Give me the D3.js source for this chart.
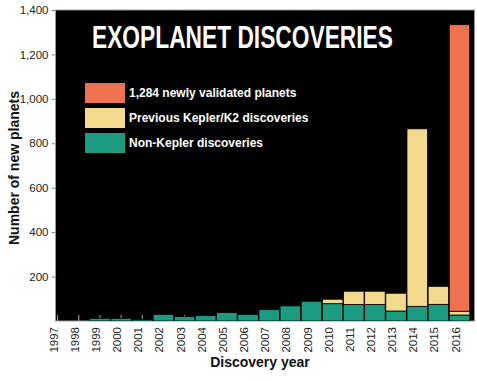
<!DOCTYPE html>
<html><head><meta charset="utf-8">
<script src="https://cdn.jsdelivr.net/npm/d3@7/dist/d3.min.js"></script>
<style>body{margin:0;background:#fff}svg{display:block}</style>
</head><body><svg id="c" width="477" height="381"></svg>
<script>
const years = ["1997","1998","1999","2000","2001","2002","2003","2004","2005","2006","2007","2008","2009","2010","2011","2012","2013","2014","2015","2016"];
const nonKepler = [0,0,12,12,7,30,20,24,38,30,51,68,89,78,74,74,45,66,75,27];
const prevKepler = [0,0,0,0,0,0,0,0,0,0,0,0,0,20,60,60,80,799,81,17];
const newlyValidated = [0,0,0,0,0,0,0,0,0,0,0,0,0,0,0,0,0,0,0,1290];
const yTicks = [200,400,600,800,1000,1200,1400];
const seriesNames = ["1,284 newly validated planets","Previous Kepler/K2 discoveries","Non-Kepler discoveries"];
const colors = {nonKepler:"#1b9b80", prevKepler:"#f3da8d", newlyValidated:"#ee7150"};

const svg = d3.select("#c");
const L=55.5, R=474.5, T=10, B=321;
const x = d3.scaleBand().domain(years).range([47.1,470.1]).paddingInner(0.03).paddingOuter(0.015);
const y = d3.scaleLinear().domain([0,1400]).range([B,T]);

svg.append("rect").attr("x",L).attr("y",T).attr("width",R-L).attr("height",B-T).attr("fill","#000").attr("stroke","#999").attr("stroke-width",1);

svg.append("defs").append("clipPath").attr("id","clp").append("rect").attr("x",L).attr("y",T).attr("width",R-L).attr("height",B-T);

const data = years.map((yr,i)=>({year:yr,nonKepler:nonKepler[i],prevKepler:prevKepler[i],newlyValidated:newlyValidated[i]}));
const stack = d3.stack().keys(["nonKepler","prevKepler","newlyValidated"])(data);

const gx = svg.append("g").attr("transform",`translate(0,${B})`)
  .call(d3.axisBottom(x).tickSize(-6).tickPadding(4).tickSizeOuter(0));
gx.select(".domain").remove();
gx.selectAll("line").attr("stroke","#aaa");
gx.selectAll("text").attr("transform","rotate(-90)").attr("text-anchor","end")
  .attr("x",-6).attr("y",-4).attr("dy","0.35em")
  .style("font-family","Liberation Sans, Arial, sans-serif").style("font-size","11.5px").attr("fill","#222");

const g = svg.append("g").attr("clip-path","url(#clp)");
g.selectAll("g.s").data(stack).join("g").attr("fill",d=>colors[d.key])
  .selectAll("rect").data(d=>d.filter(p=>p[1]-p[0]>0)).join("rect")
  .attr("x",d=>x(d.data.year)).attr("width",x.bandwidth())
  .attr("y",d=>y(d[1])).attr("height",d=>y(d[0])-y(d[1]))
  .attr("stroke","#000").attr("stroke-width",0.8);

const gy = svg.append("g").attr("transform",`translate(${L},0)`)
  .call(d3.axisLeft(y).tickValues(yTicks).tickFormat(d3.format(",")).tickSize(4).tickPadding(3));
gy.select(".domain").remove();
gy.selectAll("line").attr("stroke","#888");
gy.selectAll("text").style("font-family","Liberation Sans, Arial, sans-serif").style("font-size","11.5px").attr("fill","#222");

// title, horizontally scaled to reference width
const tg = svg.append("g");
const tt = tg.append("text").attr("x",0).attr("y",0)
  .style("font-family","Liberation Sans Narrow, Arial Narrow, sans-serif").style("font-weight","bold").style("font-size","31px")
  .attr("fill","#fff").text("EXOPLANET DISCOVERIES");
const tw = tt.node().getComputedTextLength();
tg.attr("transform",`translate(92,48) scale(${301/tw},1)`);

const lg = svg.append("g").attr("transform","translate(85,83)");
const lcols=[colors.newlyValidated,colors.prevKepler,colors.nonKepler];
seriesNames.forEach((n,i)=>{
  lg.append("rect").attr("x",0).attr("y",i*25).attr("width",40).attr("height",20).attr("fill",lcols[i]);
  lg.append("text").attr("x",44).attr("y",i*25+10).attr("dy","0.35em")
    .style("font-family","Liberation Sans Narrow, Arial Narrow, sans-serif").style("font-weight","bold").style("font-size","12px")
    .attr("fill","#fff").text(n);
});

svg.append("text").attr("transform","translate(19,168) rotate(-90)").attr("text-anchor","middle")
  .style("font-family","Liberation Sans Narrow, Arial Narrow, sans-serif").style("font-weight","bold").style("font-size","14px")
  .attr("fill","#111").text("Number of new planets");
svg.append("text").attr("x",260).attr("y",367).attr("text-anchor","middle")
  .style("font-family","Liberation Sans Narrow, Arial Narrow, sans-serif").style("font-weight","bold").style("font-size","14px")
  .attr("fill","#111").text("Discovery year");
</script></body></html>
